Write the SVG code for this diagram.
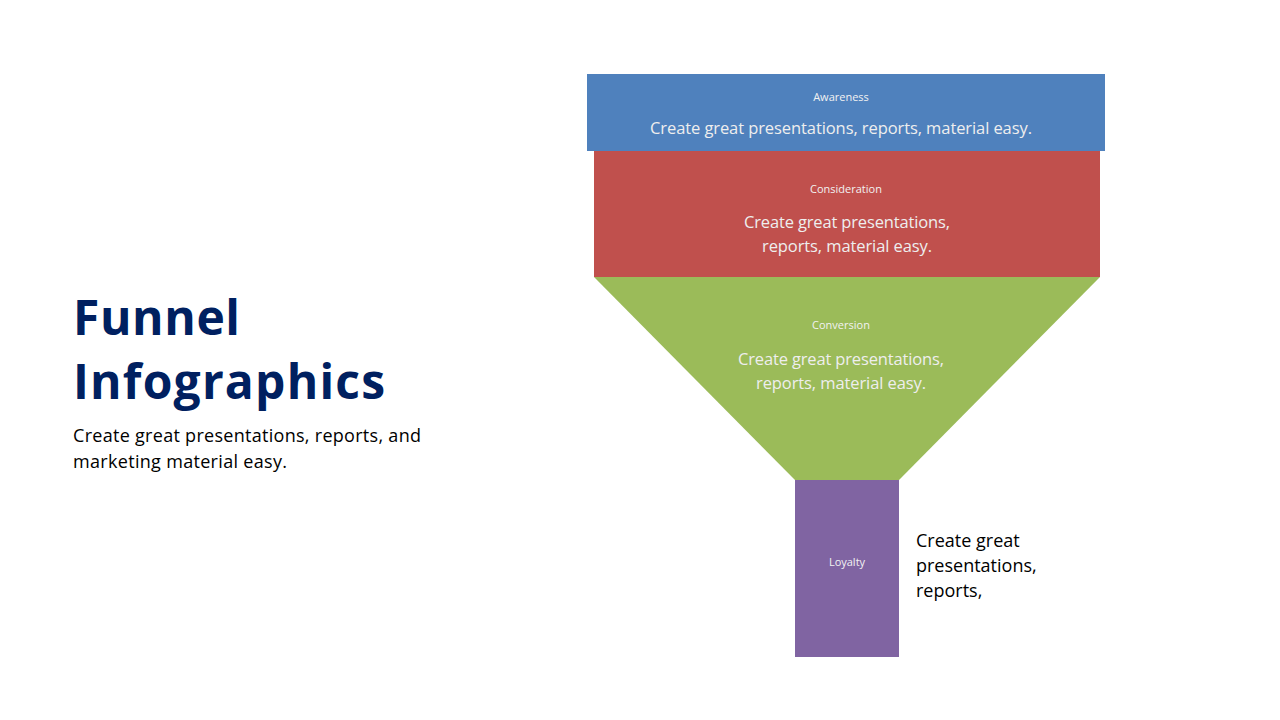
<svg xmlns="http://www.w3.org/2000/svg" width="1280" height="720" viewBox="0 0 1280 720">
<style>
text{font-family:"Open Sans","Noto Sans","Liberation Sans",sans-serif}
.lbl{font-size:11px;fill:#f2f2f2;text-anchor:middle}
.in{font-size:16.5px;fill:#eeeeee;text-anchor:middle}
.dark{fill:#000;font-size:18px}
</style>
<rect width="1280" height="720" fill="#fff"/>
<g id="title">
<text x="73" y="335" font-size="48" font-weight="bold" fill="#002060" textLength="167">Funnel</text>
<text x="73" y="399" font-size="48" font-weight="bold" fill="#002060" textLength="312">Infographics</text>
<text x="73" y="442" class="dark" textLength="348">Create great presentations, reports, and</text>
<text x="73" y="468" class="dark" textLength="214">marketing material easy.</text>
</g>
<g id="awareness">
<rect x="587" y="74" width="518" height="77" fill="#4f81bd"/>
<text x="841" y="101" class="lbl">Awareness</text>
<text x="841" y="134" class="in" textLength="382">Create great presentations, reports, material easy.</text>
</g>
<g id="consideration">
<rect x="594" y="151" width="506" height="126" fill="#c0504d"/>
<text x="846" y="193" class="lbl">Consideration</text>
<text x="847" y="228" class="in" textLength="206">Create great presentations,</text>
<text x="847" y="252" class="in" textLength="170">reports, material easy.</text>
</g>
<g id="conversion">
<polygon points="594,277 1100,277 899,480 795,480" fill="#9bbb59"/>
<text x="841" y="329" class="lbl">Conversion</text>
<text x="841" y="365" class="in" textLength="206">Create great presentations,</text>
<text x="841" y="389" class="in" textLength="170">reports, material easy.</text>
</g>
<g id="loyalty">
<rect x="795" y="480" width="104" height="177" fill="#8064a2"/>
<text x="847" y="566" class="lbl">Loyalty</text>
</g>
<g id="note">
<text x="916" y="547" class="dark" font-size="19">Create great</text>
<text x="916" y="572" class="dark" font-size="19">presentations,</text>
<text x="916" y="597" class="dark" font-size="19">reports,</text>
</g>
<g id="connectors"/>
</svg>
